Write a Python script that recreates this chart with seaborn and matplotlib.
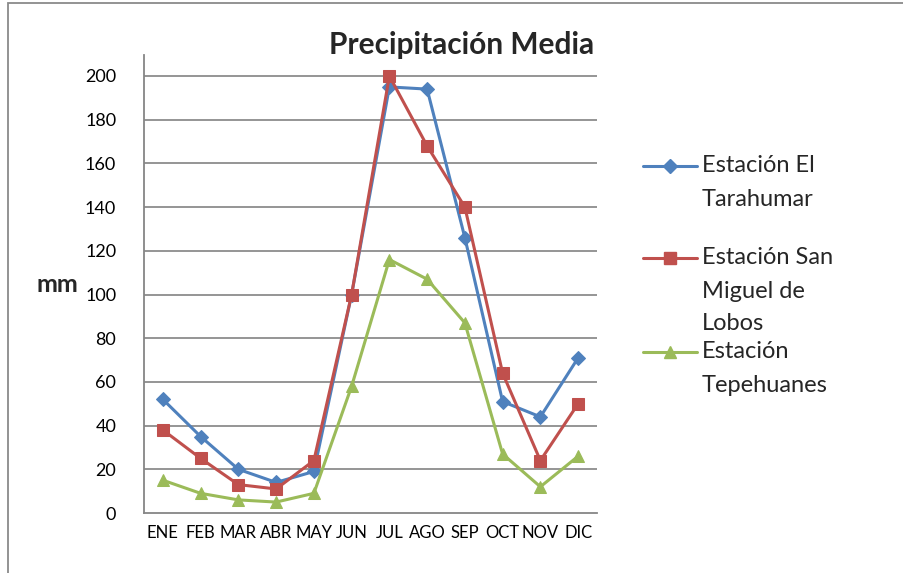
import matplotlib
matplotlib.use("Agg")
import matplotlib.pyplot as plt
from matplotlib.lines import Line2D
from matplotlib.patches import Rectangle
import seaborn as sns
import pandas as pd

meses = ["ENE", "FEB", "MAR", "ABR", "MAY", "JUN", "JUL", "AGO", "SEP", "OCT", "NOV", "DIC"]
tarahumar = [52, 35, 20, 14, 19, 100, 195, 194, 126, 51, 44, 71]
san_miguel = [38, 25, 13, 11, 24, 100, 200, 168, 140, 64, 24, 50]
tepehuanes = [15, 9, 6, 5, 9, 58, 116, 107, 87, 27, 12, 26]

series = ["Estación El Tarahumar", "Estación San Miguel de Lobos", "Estación Tepehuanes"]
colores = ["#4F81BD", "#C0504D", "#9BBB59"]
marcadores = ["D", "s", "^"]
tamanos = [7, 8, 8.5]

df = pd.concat([
    pd.DataFrame({"mes": meses, "mm": vals, "estacion": name})
    for name, vals in zip(series, [tarahumar, san_miguel, tepehuanes])
])
df["pos"] = df["mes"].map({m: i for i, m in enumerate(meses)})

sns.set_theme(style="white")
plt.rcParams["font.family"] = ["Lato", "DejaVu Sans"]

W, H = 904, 573
fig = plt.figure(figsize=(W / 100, H / 100), dpi=100)
ax = fig.add_axes([144 / W, 1 - 513 / H, (597 - 144) / W, (513 - 55) / H])

for name, col, mk, ms in zip(series, colores, marcadores, tamanos):
    sub = df[df["estacion"] == name]
    sns.lineplot(data=sub, x="pos", y="mm", ax=ax, color=col, marker=mk,
                 markersize=ms, markeredgecolor=col, linewidth=2.2, legend=False,
                 sort=False)

ax.set_xlim(-0.5, 11.5)
ax.set_ylim(0, 200 + 21 / 2.185)
ax.set_yticks(range(0, 201, 20))
ax.set_xticks(range(len(meses)))
ax.set_xticklabels(meses)
ax.tick_params(axis="x", labelsize=12, length=0, pad=9, colors="black")
ax.tick_params(axis="y", labelsize=13, length=0, pad=20, colors="black")
for lbl in ax.get_yticklabels():
    lbl.set_horizontalalignment("right")
for y in range(20, 201, 20):
    ax.axhline(y, color="#8c8c8c", linewidth=1.3, zorder=0)
for s in ["top", "right"]:
    ax.spines[s].set_visible(False)
for s in ["left", "bottom"]:
    ax.spines[s].set_color("#868686")
    ax.spines[s].set_linewidth(1.3)
ax.set_xlabel("")
ax.set_ylabel("")
ax.grid(False)

fig.text(57 / W, 1 - 285 / H, "mm", fontsize=18, fontweight="bold",
         ha="center", va="center")
fig.text(462 / W, 1 - 45 / H, "Precipitación Media", fontsize=21.5,
         fontweight="bold", ha="center", va="center")

# legend drawn at fixed positions to the right of the plot
leg_rows = [(166, ["Estación El", "Tarahumar"]),
            (258, ["Estación San", "Miguel de", "Lobos"]),
            (352, ["Estación", "Tepehuanes"])]
for (y0, lines), col, mk, ms in zip(leg_rows, colores, marcadores, tamanos):
    yf = 1 - y0 / H
    fig.add_artist(Line2D([643 / W, 697 / W], [yf, yf], color=col, linewidth=2.2,
                          marker=None, transform=fig.transFigure))
    fig.add_artist(Line2D([670 / W], [yf], color=col, marker=mk, markersize=ms,
                          markeredgecolor=col, transform=fig.transFigure))
    for k, t in enumerate(lines):
        fig.text(702 / W, 1 - (y0 + 33 * k) / H, t, fontsize=17,
                 ha="left", va="center")

# chart frame
fig.add_artist(Rectangle((8 / W, -0.05), 1.2, 1 - 3 / H + 0.05, fill=False,
                         edgecolor="#8a8a8a", linewidth=1.3,
                         transform=fig.transFigure))

fig.savefig("out.png", dpi=100, facecolor="white")
